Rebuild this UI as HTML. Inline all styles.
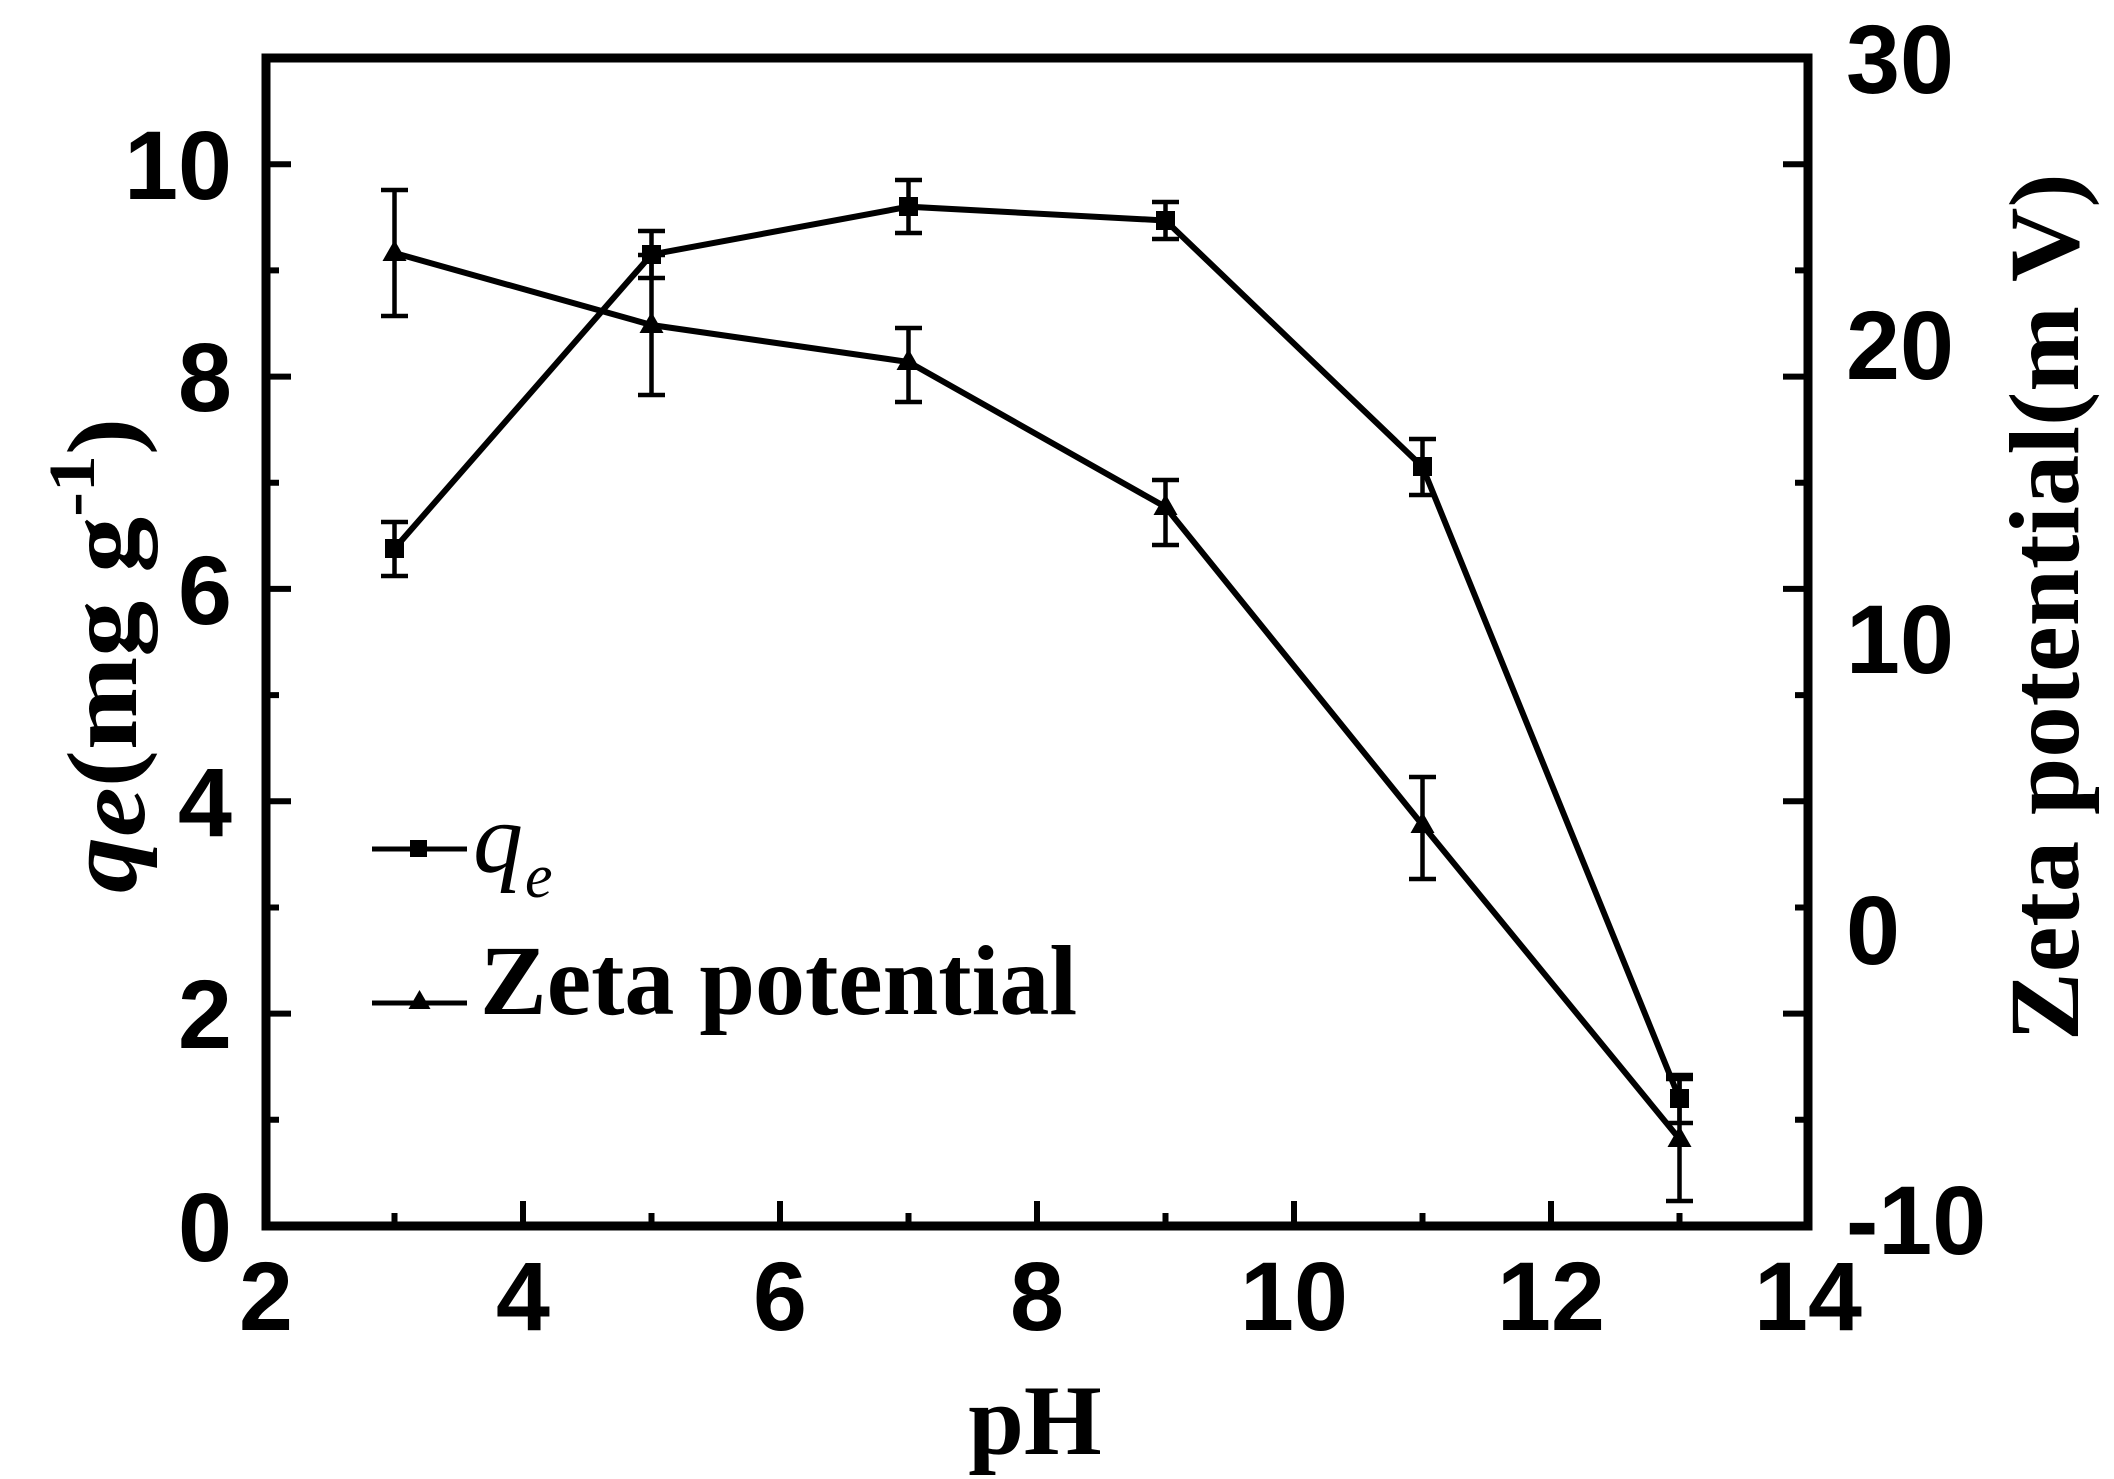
<!DOCTYPE html>
<html><head><meta charset="utf-8"><style>html,body{margin:0;padding:0;background:#fff}svg{display:block}</style></head>
<body>
<svg width="2114" height="1479" viewBox="0 0 2114 1479" xmlns="http://www.w3.org/2000/svg">
<rect width="2114" height="1479" fill="#fff"/>
<g stroke="#000" stroke-width="6" fill="none">
<polyline points="394.5,548.6 651.5,254.5 908.5,206.7 1165.5,220.5 1422.5,466.8 1679.5,1098.6"/>
<polyline points="394.5,253 651.5,325 908.5,362 1165.5,507 1422.5,825 1679.5,1139"/>
</g>
<g stroke="#000" stroke-width="4.5" fill="none">
<path d="M394.5,522V576M381,522H408M381,576H408"/>
<path d="M651.5,231V278M638,231H665M638,278H665"/>
<path d="M908.5,180V233M895,180H922M895,233H922"/>
<path d="M1165.5,202V239M1152,202H1179M1152,239H1179"/>
<path d="M1422.5,439V495M1409,439H1436M1409,495H1436"/>
<path d="M1679.5,1075V1123M1666,1075H1693M1666,1123H1693"/>
<path d="M394.5,190V316M381,190H408M381,316H408"/>
<path d="M651.5,255V395M638,255H665M638,395H665"/>
<path d="M908.5,328V402M895,328H922M895,402H922"/>
<path d="M1165.5,480V545M1152,480H1179M1152,545H1179"/>
<path d="M1422.5,777V879M1409,777H1436M1409,879H1436"/>
<path d="M1679.5,1079V1201M1666,1079H1693M1666,1201H1693"/>
</g>
<g fill="#000">
<rect x="385" y="539" width="19" height="19"/>
<rect x="642" y="245" width="19" height="19"/>
<rect x="899" y="197" width="19" height="19"/>
<rect x="1156" y="211" width="19" height="19"/>
<rect x="1413" y="457" width="19" height="19"/>
<rect x="1670" y="1089" width="19" height="19"/>
<path d="M394.5,240l12,21h-24z"/>
<path d="M651.5,312l12,21h-24z"/>
<path d="M908.5,349l12,21h-24z"/>
<path d="M1165.5,494l12,21h-24z"/>
<path d="M1422.5,812l12,21h-24z"/>
<path d="M1679.5,1126l12,21h-24z"/>
</g>
<rect x="266" y="58" width="1542" height="1168" fill="none" stroke="#000" stroke-width="9"/>
<g stroke="#000" stroke-width="6">
<path d="M523,1226v-25M780,1226v-25M1037,1226v-25M1294,1226v-25M1551,1226v-25"/>
<path d="M394.5,1226v-13M651.5,1226v-13M908.5,1226v-13M1165.5,1226v-13M1422.5,1226v-13M1679.5,1226v-13"/>
<path d="M266,1013.6h25M266,801.3h25M266,588.9h25M266,376.6h25M266,164.2h25"/>
<path d="M266,1119.8h13M266,907.5h13M266,695.1h13M266,482.8h13M266,270.4h13"/>
<path d="M1808,1013.6h-25M1808,801.3h-25M1808,588.9h-25M1808,376.6h-25M1808,164.2h-25"/>
<path d="M1808,1119.8h-13M1808,907.5h-13M1808,695.1h-13M1808,482.8h-13M1808,270.4h-13"/>
</g>
<g font-family="Liberation Sans, Arial, sans-serif" font-weight="bold" font-size="97" fill="#000">
<g text-anchor="middle">
<text x="266" y="1330">2</text><text x="523" y="1330">4</text><text x="780" y="1330">6</text>
<text x="1037" y="1330">8</text><text x="1294" y="1330">10</text><text x="1551" y="1330">12</text><text x="1808" y="1330">14</text>
</g>
<g text-anchor="end">
<text x="232" y="1261">0</text><text x="232" y="1048">2</text><text x="232" y="836">4</text>
<text x="232" y="624">6</text><text x="232" y="411">8</text><text x="232" y="199">10</text>
</g>
<text x="1846" y="1254">-10</text><text x="1846" y="964">0</text><text x="1846" y="673">10</text>
<text x="1846" y="379">20</text><text x="1846" y="93">30</text>
</g>
<g font-family="Liberation Serif, Times New Roman, serif" font-weight="bold" fill="#000">
<text transform="translate(2078,1041) rotate(-90) scale(1.03,1)" font-size="100">Zeta potential(m V)</text>
<text transform="translate(136,893) rotate(-90) scale(1.12,1)" font-size="100"><tspan font-style="italic">q</tspan><tspan font-style="italic" dy="8">e</tspan><tspan dy="-8">(mg g</tspan><tspan font-size="66" dy="-42">-1</tspan><tspan dy="42">)</tspan></text>
<text x="1035" y="1454" font-size="100" text-anchor="middle">pH</text>
<text x="473" y="872" font-size="100" font-style="italic" font-weight="normal">q</text>
<text x="525" y="897" font-size="62" font-style="italic" font-weight="normal">e</text>
<text x="480" y="1014" font-size="100">Zeta potential</text>
</g>
<g stroke="#000" stroke-width="5">
<path d="M372,849H467M372,1003H467"/>
</g>
<rect x="410" y="840" width="17" height="17" fill="#000"/>
<path d="M419.5,990l11,19h-22z" fill="#000"/>
</svg>
</body></html>
